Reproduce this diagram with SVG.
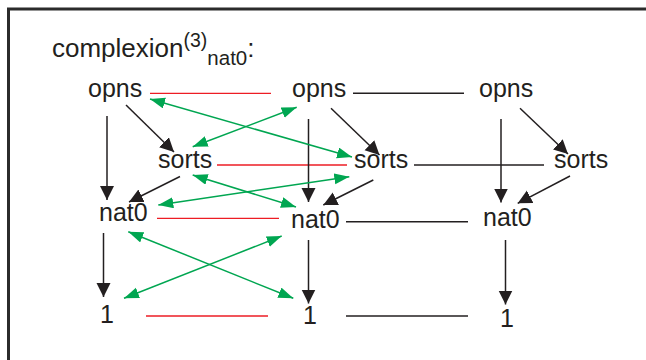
<svg xmlns="http://www.w3.org/2000/svg" width="646" height="360" viewBox="0 0 646 360">
<style>
text{font-family:"Liberation Sans",Arial,sans-serif;font-size:25px;fill:#231f20}
.blk{stroke:#231f20;stroke-width:1.5;fill:none}
.red{stroke:#ed1c24;stroke-width:1.3;fill:none}
.grn{stroke:#00a651;stroke-width:1.5;fill:none}
.arr{marker-end:url(#ab)}
.dbl{marker-start:url(#ag);marker-end:url(#ag)}
</style>
<defs>
<marker id="ab" markerUnits="userSpaceOnUse" markerWidth="15" markerHeight="15" refX="14" refY="7" orient="auto"><path d="M0,0L14,7L0,14z" fill="#231f20"/></marker>
<marker id="ag" markerUnits="userSpaceOnUse" markerWidth="16" markerHeight="12" refX="15" refY="5.5" orient="auto-start-reverse"><path d="M0,0L15,5.5L0,11z" fill="#00a651"/></marker>
</defs>
<rect x="8.5" y="9" width="700" height="400" fill="none" stroke="#2b2b2b" stroke-width="3"/>
<g id="title"><text x="52" y="57" style="font-size:26px">complexion<tspan style="font-size:19.5px" dy="-10">(3)</tspan><tspan style="font-size:20.5px" dy="17.5">nat0</tspan><tspan dy="-7.5">:</tspan></text></g>
<g id="opns1"><text x="88" y="97">opns</text></g>
<g id="opns2"><text x="292" y="97">opns</text></g>
<g id="opns3"><text x="479" y="97">opns</text></g>
<g id="sorts1"><text x="158" y="168">sorts</text></g>
<g id="sorts2"><text x="354" y="168">sorts</text></g>
<g id="sorts3"><text x="554" y="168">sorts</text></g>
<g id="nat01"><text x="99" y="221">nat0</text></g>
<g id="nat02"><text x="291" y="228">nat0</text></g>
<g id="nat03"><text x="483" y="226">nat0</text></g>
<g id="one1"><text x="100" y="323">1</text></g>
<g id="one2"><text x="303" y="324">1</text></g>
<g id="one3"><text x="500" y="327">1</text></g>
<g id="connectors">
<line class="red" x1="150" y1="93.3" x2="271" y2="93.3"/>
<line class="blk" x1="353" y1="93.3" x2="464" y2="93.3"/>
<line class="red" x1="217" y1="165" x2="347" y2="165"/>
<line class="blk" x1="414" y1="165" x2="544" y2="165"/>
<line class="red" x1="157" y1="218.3" x2="279" y2="218.3"/>
<line class="blk" x1="346" y1="221.7" x2="468" y2="221.7"/>
<line class="red" x1="146" y1="316" x2="268" y2="316"/>
<line class="blk" x1="346" y1="316" x2="468" y2="316"/>
<line class="blk arr" x1="107" y1="116" x2="107" y2="200"/>
<line class="blk arr" x1="103.5" y1="233" x2="103.5" y2="297"/>
<line class="blk arr" x1="308.5" y1="119" x2="308.5" y2="202"/>
<line class="blk arr" x1="308.5" y1="240" x2="308.5" y2="303.5"/>
<line class="blk arr" x1="501" y1="119" x2="501" y2="202.5"/>
<line class="blk arr" x1="505.5" y1="240" x2="505.5" y2="304.5"/>
<line class="blk arr" x1="126" y1="105" x2="174" y2="152"/>
<line class="blk arr" x1="180" y1="176.5" x2="129" y2="202"/>
<line class="blk arr" x1="331" y1="108.3" x2="379.5" y2="155"/>
<line class="blk arr" x1="373.3" y1="180" x2="323.3" y2="205"/>
<line class="blk arr" x1="520" y1="108.3" x2="568" y2="154"/>
<line class="blk arr" x1="570" y1="176" x2="517.7" y2="203.3"/>
<line class="grn dbl" x1="150" y1="99" x2="352" y2="157"/>
<line class="grn dbl" x1="192.7" y1="146.7" x2="296.7" y2="107.3"/>
<line class="grn dbl" x1="192.7" y1="175" x2="296" y2="207"/>
<line class="grn dbl" x1="158.3" y1="205" x2="349.3" y2="176.7"/>
<line class="grn dbl" x1="128.3" y1="231.7" x2="293.3" y2="298.3"/>
<line class="grn dbl" x1="124" y1="298.3" x2="281.7" y2="236"/>
</g>
</svg>
